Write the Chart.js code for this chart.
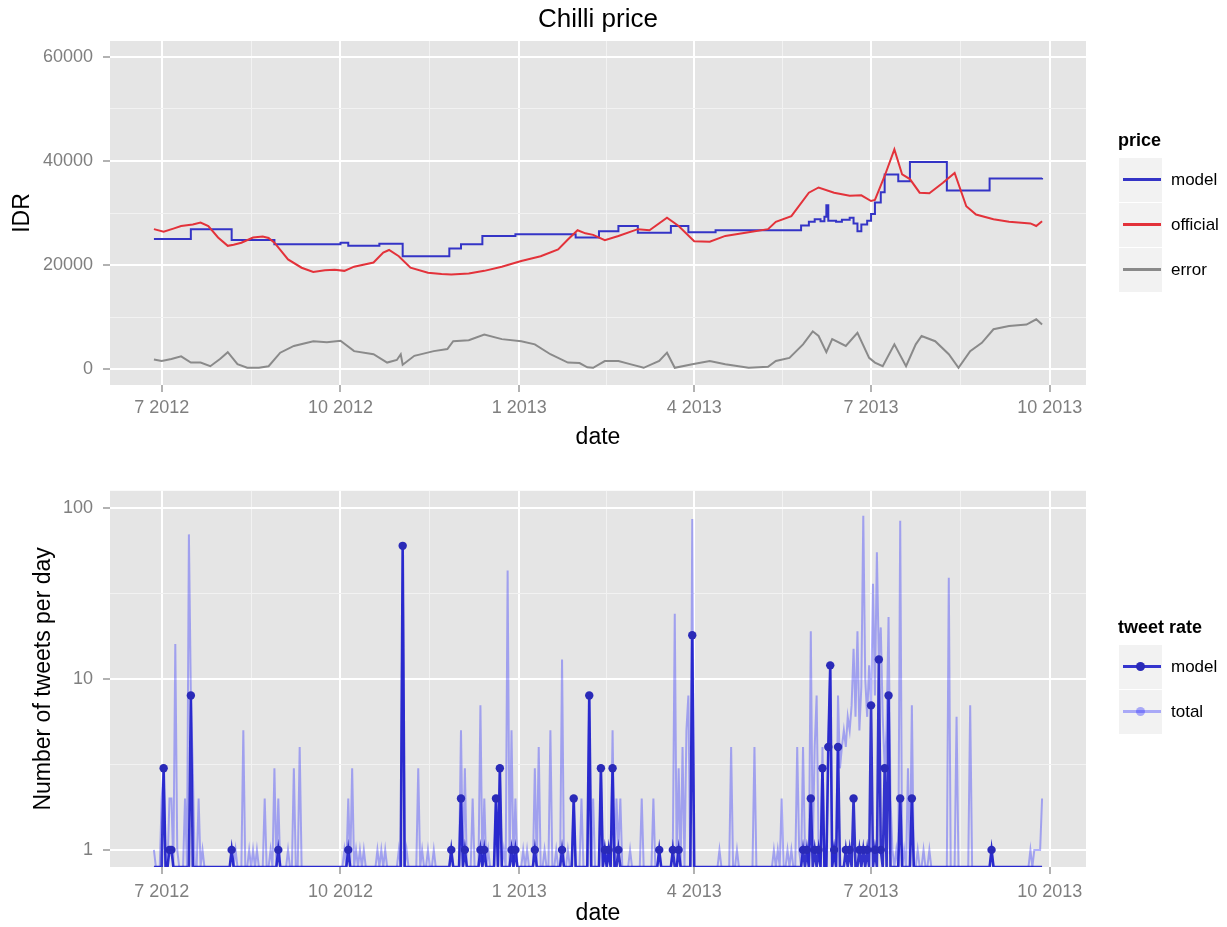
<!DOCTYPE html>
<html>
<head>
<meta charset="utf-8">
<title>Chilli price</title>
<script src="https://cdn.jsdelivr.net/npm/chart.js@4.4.1/dist/chart.umd.min.js"></script>
<style>
    body { margin: 0; background: #fff; font-family: "Liberation Sans", Arial, Helvetica, sans-serif; }
    #wrap { position: relative; width: 1227px; height: 927px; overflow: hidden; }
    .panel { position: absolute; left: 0; width: 1227px; }
    #panel-price { top: 0; height: 470px; }
    #panel-tweets { top: 470px; height: 457px; }
    .legend { position: absolute; left: 1118px; width: 109px; color: #000; }
    .legend-title { font-weight: bold; font-size: 18px; height: 22px; line-height: 22px; margin-bottom: 7px; white-space: nowrap; }
    .legend-row { position: relative; height: 45px; }
    .legend-key { position: absolute; left: 1px; top: 0; width: 43px; height: 44px; background: #F2F2F2; }
    .legend-line { position: absolute; left: 4px; width: 38px; top: 20px; height: 3px; }
    .legend-dot { position: absolute; left: 17px; top: 17px; width: 9px; height: 9px; border-radius: 50%; }
    .legend-label { position: absolute; left: 53px; top: 0; line-height: 44px; font-size: 17px; white-space: nowrap; }
</style>
</head>
<body>
<div id="wrap">
    <div class="panel" id="panel-price"><canvas id="price" width="1227" height="470"></canvas></div>
    <div class="panel" id="panel-tweets"><canvas id="tweets" width="1227" height="457"></canvas></div>
</div>
<script>
// x values are days after 1 July 2012
const dateTickDays = [0, 92, 184, 274, 365, 457];
const dateTickLabels = ['7 2012', '10 2012', '1 2013', '4 2013', '7 2013', '10 2013'];

// ---- top panel: price (IDR) ----
const modelPriceDays = [-4, 15, 36, 58, 92, 96, 112, 124, 148, 154, 165, 182, 213, 225, 235, 245, 262, 271, 285,
    329, 333, 336, 339, 341, 342, 343, 347, 350, 354, 356, 358, 360, 363, 365, 367, 370, 372, 379, 385, 404, 426, 453];
const modelPriceValues = [25000, 26900, 24800, 24000, 24300, 23700, 24100, 21700, 23200, 24000, 25600, 25900, 25300, 26500, 27500, 26200, 27500, 26300, 26700,
    27600, 28300, 28800, 28400, 29300, 31500, 28500, 28300, 28700, 29100, 28000, 26500, 27800, 28500, 29800, 32000, 34000, 37400, 36100, 39800, 34300, 36600, 36700];

const officialDays = [-4, 1, 6, 10, 16, 20, 24, 29, 34, 37, 41, 47, 52, 55, 58, 65, 72, 78, 84, 89, 94, 99, 109, 114, 117, 122,
    128, 137, 144, 149, 158, 166, 175, 185, 195, 204, 209, 214, 218, 222, 228, 235, 245, 251, 260, 266, 274, 282, 290, 302,
    312, 316, 324, 333, 338, 346, 354, 360, 365, 367, 372, 377, 381, 385, 390, 395, 402, 408, 414, 419, 428, 436, 447, 450, 453];
const officialValues = [26900, 26400, 27000, 27500, 27800, 28150, 27500, 25300, 23700, 23900, 24300, 25300, 25500, 25200, 24300, 21100, 19500, 18700, 19000, 19100, 18900, 19700, 20500, 22400, 22900, 21700,
    19500, 18550, 18300, 18200, 18400, 18900, 19700, 20800, 21700, 23000, 24900, 26700, 26100, 25800, 24800, 25600, 26900, 26700, 29100, 27500, 24600, 24500, 25600, 26300,
    26900, 28300, 29400, 33900, 34900, 33900, 33300, 33400, 32300, 32500, 37100, 42200, 37400, 36500, 33900, 33800, 35800, 37700, 31300, 29700, 28800, 28300, 28000, 27500, 28400];

const errorDays = [-4, 0, 5, 10, 15, 20, 25, 30, 34, 39, 44, 50, 55, 61, 68, 78, 85, 92, 99, 109, 116, 121, 123, 124, 130,
    140, 147, 150, 158, 166, 175, 185, 192, 200, 209, 215, 219, 222, 228, 235, 241, 248, 256, 260, 264, 273, 282, 290, 302,
    312, 316, 323, 330, 335, 338, 342, 345, 352, 358, 364, 367, 371, 377, 383, 388, 391, 398, 405, 410, 416, 422, 428, 436, 445, 450, 453];
const errorValues = [1900, 1600, 2000, 2500, 1300, 1300, 600, 2000, 3300, 1000, 300, 300, 600, 3200, 4500, 5400, 5200, 5500, 3500, 2900, 1300, 1800, 2900, 900, 2600,
    3500, 3900, 5400, 5600, 6700, 5800, 5400, 4800, 2900, 1300, 1200, 400, 300, 1600, 1600, 1000, 300, 1600, 3200, 300, 1000, 1600, 1000, 300,
    500, 1600, 2200, 4800, 7300, 6400, 3300, 5800, 4500, 7000, 2200, 1300, 600, 4800, 600, 4800, 6400, 5400, 2900, 300, 3500, 5100, 7700, 8300, 8600, 9600, 8600];

const priceTicks = [0, 20000, 40000, 60000];

// ---- bottom panel: tweets per day (only days with tweets are listed, every other day is 0) ----
const tweetFirstDay = -4;
const tweetLastDay = 453;
const modelTweetDays = [1, 4, 5, 15, 36, 60, 96, 124, 149, 154, 156, 164, 166, 172, 174, 180, 182, 192, 206, 212, 220, 226, 228, 230, 232, 235,
    256, 263, 266, 273, 330, 332, 334, 336, 338, 340, 343, 344, 346, 348, 352, 354, 356, 359, 361, 363, 365, 367, 369, 370, 372, 374, 380, 386, 427];
const modelTweetCounts = [3, 1, 1, 8, 1, 1, 1, 60, 1, 2, 1, 1, 1, 2, 3, 1, 1, 1, 1, 2, 8, 3, 1, 1, 3, 1,
    1, 1, 1, 18, 1, 1, 2, 1, 1, 3, 4, 12, 1, 4, 1, 1, 2, 1, 1, 1, 7, 1, 13, 1, 3, 8, 2, 2, 1];

const totalTweetDays = [-4, 0, 1, 4, 5, 7, 8, 12, 14, 15, 16, 19, 21, 36, 38, 42, 45, 47, 49, 53, 56, 58, 60, 65, 68, 71,
    94, 96, 98, 100, 102, 104, 111, 113, 115, 122, 124, 126, 132, 134, 137, 140, 149, 154, 156, 160, 164, 166, 168, 172, 174, 176, 178,
    180, 182, 186, 188, 192, 194, 197, 200, 203, 206, 209, 212, 216, 220, 222, 226, 228, 230, 232, 234, 235, 236, 241, 247, 253, 256,
    263, 264, 266, 268, 270, 271, 273, 287, 293, 296, 305, 315, 317, 319, 322, 324, 327, 328, 330, 331, 332, 334, 335, 336, 337, 338,
    340, 343, 344, 346, 348, 349, 350, 351, 352, 353, 354, 355, 356, 357, 358, 359, 360, 361, 362, 363, 364, 365, 366, 367, 368, 369,
    370, 371, 372, 373, 374, 375, 376, 378, 380, 382, 384, 386, 389, 392, 395, 405, 409, 416, 427, 447, 449, 450, 451, 452, 453];
const totalTweetCounts = [1, 2, 3, 2, 2, 16, 1, 2, 70, 8, 3, 2, 1, 1, 1, 5, 1, 1, 1, 2, 1, 3, 2, 1, 3, 4,
    1, 2, 3, 1, 1, 1, 1, 1, 1, 1, 60, 1, 3, 1, 1, 1, 1, 5, 3, 2, 7, 2, 1, 2, 3, 1, 43,
    5, 2, 1, 1, 3, 4, 1, 5, 1, 13, 1, 2, 2, 8, 2, 3, 1, 1, 5, 2, 1, 2, 1, 2, 2, 1,
    1, 24, 3, 4, 5, 8, 86, 1, 4, 1, 4, 1, 1, 2, 1, 1, 4, 1, 4, 1, 1, 19, 1, 4, 8, 1,
    4, 4, 12, 1, 8, 3, 4, 5, 4, 6, 5, 7, 15, 6, 19, 5, 9, 90, 10, 6, 12, 7, 36, 8, 55, 13,
    20, 6, 3, 5, 23, 2, 1, 1, 84, 1, 3, 7, 1, 1, 1, 39, 6, 7, 1, 1, 1, 1, 1, 1, 2];

const tweetTicks = [1, 10, 100];

const FONT = '"Liberation Sans", Arial, Helvetica, sans-serif';
const PANEL = '#E5E5E5';
const TICK_TEXT = '#7F7F7F';
const TOTAL_COLOR = 'rgba(40,40,255,0.36)';
const MODEL_DOT = '#2A2AB8';

Chart.defaults.font.family = FONT;
Chart.defaults.color = TICK_TEXT;

// log scale that keeps zero counts and puts them on the panel floor (like ggplot's -Inf)
class LogFloorScale extends Chart.LogarithmicScale {
    static id = 'logFloor';
    parse(raw, index) {
        return raw === 0 ? 0 : super.parse(raw, index);
    }
}
Chart.register(LogFloorScale);

const panelBackground = {
    id: 'panelBackground',
    beforeDraw(chart) {
        const a = chart.chartArea;
        const ctx = chart.ctx;
        ctx.save();
        ctx.fillStyle = PANEL;
        ctx.fillRect(a.left, a.top, a.right - a.left, a.bottom - a.top);
        ctx.restore();
    }
};

function toPoints(days, values) {
    return days.map((d, i) => ({x: d, y: values[i]}));
}

function dailySeries(days, counts) {
    const byDay = new Map(days.map((d, i) => [d, counts[i]]));
    let points = [];
    for (let d = tweetFirstDay; d <= tweetLastDay; ++d) {
        points.push({x: d, y: byDay.get(d) || 0});
    }
    return points;
}

// major breaks plus ggplot-style minor breaks half way between them
function withMinor(majors, labels, midpoint) {
    let ticks = [];
    majors.forEach(function (v, i) {
        if (i > 0) {
            ticks.push({value: midpoint(majors[i - 1], v), minor: true, name: ''});
        }
        ticks.push({value: v, minor: false, name: labels[i]});
    });
    return ticks;
}

const isMinor = (c) => c.tick && c.tick.minor;

function gridOptions() {
    return {
        color: (c) => isMinor(c) ? '#F2F2F2' : '#FFFFFF',
        lineWidth: (c) => isMinor(c) ? 1 : 2,
        drawTicks: true,
        tickLength: 7,
        tickColor: (c) => isMinor(c) ? 'rgba(0,0,0,0)' : TICK_TEXT,
        tickWidth: 1.2
    };
}

function dateAxis(axisHeight, labelPadding, titleBottom) {
    return {
        type: 'linear',
        min: -26.6,
        max: 475.6,
        bounds: 'data',
        afterBuildTicks: (scale) => {
            scale.ticks = withMinor(dateTickDays, dateTickLabels, (a, b) => (a + b) / 2);
        },
        afterFit: (scale) => { scale.height = axisHeight; },
        grid: gridOptions(),
        border: {display: false},
        ticks: {
            autoSkip: false,
            maxRotation: 0,
            padding: labelPadding,
            color: TICK_TEXT,
            font: {size: 18},
            callback: (value, index, ticks) => ticks[index].name
        },
        title: {
            display: true,
            text: 'date',
            color: '#000',
            font: {size: 23},
            padding: {top: 0, bottom: titleBottom}
        }
    };
}

function valueAxis(extra, titleText, titleTop) {
    return Object.assign({
        bounds: 'data',
        afterFit: (scale) => { scale.width = 110; },
        grid: gridOptions(),
        border: {display: false},
        ticks: {
            autoSkip: false,
            padding: 10,
            color: TICK_TEXT,
            font: {size: 18},
            callback: (value, index, ticks) => ticks[index].name
        },
        title: {
            display: true,
            text: titleText,
            color: '#000',
            font: {size: 23},
            padding: {top: titleTop, bottom: 0}
        }
    }, extra);
}

function lineSet(label, points, color, width) {
    return {
        label: label,
        data: points,
        borderColor: color,
        borderWidth: width,
        pointRadius: 0,
        tension: 0
    };
}

// datasets listed first are drawn on top
let priceSets = [
    lineSet('error', toPoints(errorDays, errorValues), '#8A8A8A', 2),
    lineSet('official', toPoints(officialDays, officialValues), '#E3323A', 2),
    lineSet('model', toPoints(modelPriceDays, modelPriceValues), '#3434C6', 2)
];
priceSets[2].stepped = true;

new Chart(document.getElementById('price'), {
    type: 'line',
    data: {datasets: priceSets},
    plugins: [panelBackground],
    options: {
        responsive: false,
        animation: false,
        events: [],
        layout: {padding: {left: 0, right: 141, top: 0, bottom: 0}},
        plugins: {
            legend: {display: false},
            tooltip: {enabled: false},
            title: {
                display: true,
                text: 'Chilli price',
                fullSize: false,
                color: '#000',
                font: {size: 26, weight: 'normal'},
                padding: {top: 4, bottom: 5.8}
            }
        },
        scales: {
            x: dateAxis(85, 5, 19),
            y: valueAxis({
                type: 'linear',
                min: -3000,
                max: 63000,
                afterBuildTicks: (scale) => {
                    scale.ticks = withMinor(priceTicks, priceTicks.map(String), (a, b) => (a + b) / 2);
                }
            }, 'IDR', 9)
        }
    }
});

let tweetSets = [
    {
        label: 'model',
        data: dailySeries(modelTweetDays, modelTweetCounts),
        borderColor: 'rgba(20,20,200,0.85)',
        borderWidth: 2.6,
        pointRadius: (c) => (c.raw && c.raw.y > 0) ? 4.2 : 0,
        pointBackgroundColor: MODEL_DOT,
        pointBorderWidth: 0,
        tension: 0
    },
    lineSet('total', dailySeries(totalTweetDays, totalTweetCounts), TOTAL_COLOR, 2)
];

new Chart(document.getElementById('tweets'), {
    type: 'line',
    data: {datasets: tweetSets},
    plugins: [panelBackground],
    options: {
        responsive: false,
        animation: false,
        events: [],
        layout: {padding: {left: 0, right: 141, top: 14, bottom: 0}},
        plugins: {
            legend: {display: false},
            tooltip: {enabled: false}
        },
        scales: {
            x: dateAxis(60, 7, 0),
            y: valueAxis({
                type: 'logFloor',
                min: 0.7943,
                max: 125.89,
                afterBuildTicks: (scale) => {
                    scale.ticks = withMinor(tweetTicks, tweetTicks.map(String), (a, b) => Math.sqrt(a * b));
                }
            }, 'Number of tweets per day', 30)
        }
    }
});

// ggplot-like legends to the right of each panel
function buildLegend(parent, top, title, items) {
    let legend = document.createElement('DIV');
    legend.className = 'legend';
    legend.style.top = `${top}px`;
    let node = document.createElement('DIV');
    node.className = 'legend-title';
    node.textContent = title;
    legend.appendChild(node);
    items.forEach(function (item) {
        let row = document.createElement('DIV');
        row.className = 'legend-row';
        let key = document.createElement('DIV');
        key.className = 'legend-key';
        let line = document.createElement('DIV');
        line.className = 'legend-line';
        line.style.background = item.color;
        key.appendChild(line);
        if (item.dot) {
            let dot = document.createElement('DIV');
            dot.className = 'legend-dot';
            dot.style.background = item.dot;
            key.appendChild(dot);
        }
        row.appendChild(key);
        let label = document.createElement('DIV');
        label.className = 'legend-label';
        label.textContent = item.label;
        row.appendChild(label);
        legend.appendChild(row);
    });
    document.getElementById(parent).appendChild(legend);
}

buildLegend('panel-price', 129, 'price', [
    {label: 'model', color: priceSets[2].borderColor},
    {label: 'official', color: priceSets[1].borderColor},
    {label: 'error', color: priceSets[0].borderColor}
]);
buildLegend('panel-tweets', 146, 'tweet rate', [
    {label: 'model', color: tweetSets[0].borderColor, dot: MODEL_DOT},
    {label: 'total', color: TOTAL_COLOR, dot: TOTAL_COLOR}
]);
</script>
</body>
</html>
